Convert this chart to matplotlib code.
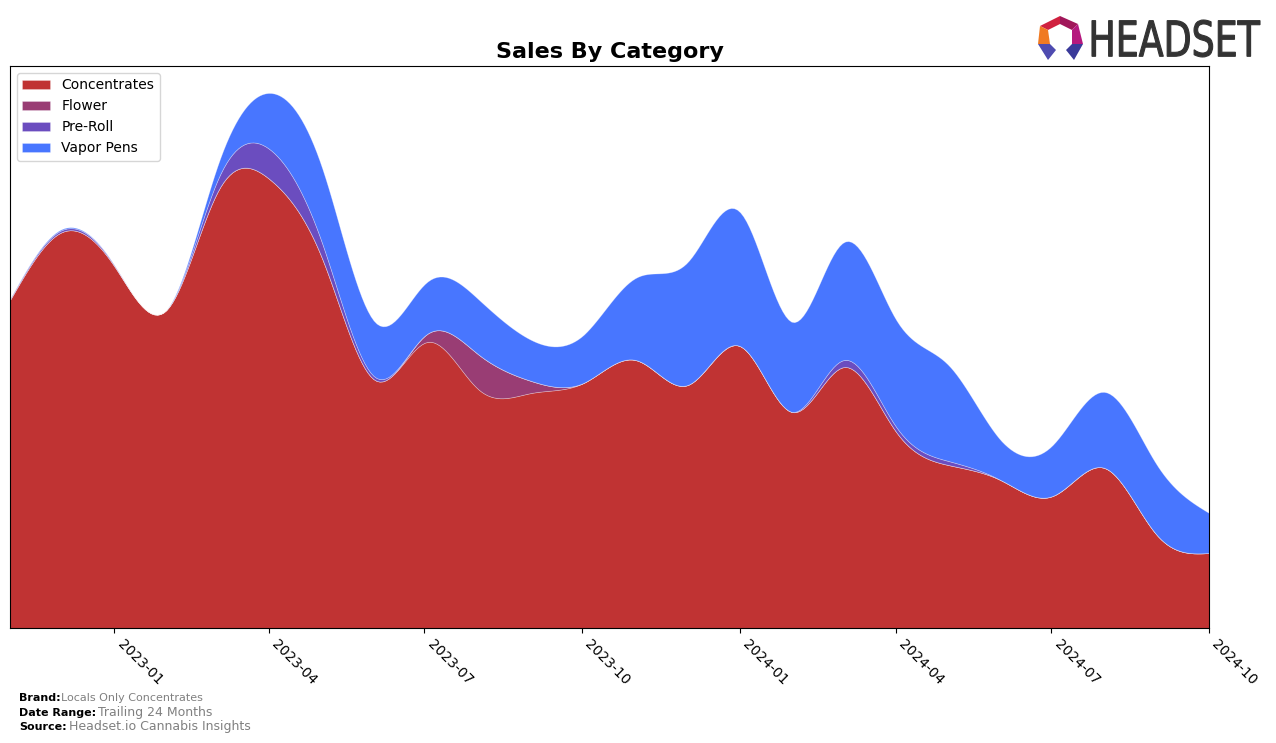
import numpy as np
import pandas as pd
import matplotlib
matplotlib.use("Agg")
from matplotlib import pyplot as plt
from matplotlib.textpath import TextPath
from matplotlib.patches import PathPatch, Polygon
from matplotlib.transforms import Affine2D
import matplotlib.dates as mdates

months = pd.date_range("2022-11-01", "2024-10-01", freq="MS")
concentrates = [328, 396, 362, 318, 438, 448, 368, 248, 286, 238, 235, 245,
                268, 243, 282, 216, 261, 196, 163, 148, 132, 160, 93, 75]
flower = [0, 0, 0, 0, 0, 0, 0, 0, 8, 35, 12, 0,
          0, 0, 0, 0, 0, 0, 0, 0, 0, 0, 0, 0]
pre_roll = [1, 2, 1, 0, 12, 30, 15, 3, 0, 0, 0, 0,
            0, 0, 0, 0, 7, 5, 4, 0, 0, 0, 0, 0]
vapor_pens = [0, 1, 0, 0, 15, 57, 75, 55, 52, 55, 41, 48,
              82, 123, 134, 90, 118, 107, 96, 40, 51, 76, 70, 40]
labels = ["Concentrates", "Flower", "Pre-Roll", "Vapor Pens"]
colors = ["#c03333", "#993d74", "#6b4dbf", "#4876ff"]


def smooth(y, n=400):
    # natural cubic spline over month index
    y = np.asarray(y, dtype=float)
    k = len(y)
    A = np.zeros((k, k))
    r = np.zeros(k)
    A[0, 0] = A[-1, -1] = 1
    for i in range(1, k - 1):
        A[i, i - 1] = 1
        A[i, i] = 4
        A[i, i + 1] = 1
        r[i] = 6 * (y[i + 1] - 2 * y[i] + y[i - 1])
    m = np.linalg.solve(A, r)
    xs = np.linspace(0, k - 1, n)
    idx = np.clip(np.floor(xs).astype(int), 0, k - 2)
    t = xs - idx
    a = y[idx]
    b = y[idx + 1]
    ys = (1 - t) * a + t * b + ((1 - t) ** 3 - (1 - t)) * m[idx] / 6 + (t ** 3 - t) * m[idx + 1] / 6
    return xs, np.clip(ys, 0, None)


series = [concentrates, flower, pre_roll, vapor_pens]
xs = None
ys = []
for s in series:
    xs, v = smooth(s)
    ys.append(v)
t0 = months[0].value
t1 = months[-1].value
xdates = pd.to_datetime(t0 + xs / (len(months) - 1) * (t1 - t0))

fig = plt.figure(figsize=(12.76, 7.43), dpi=100)
ax = fig.add_axes([0.0078, 0.1548, 0.9397, 0.7564])
ax.stackplot(xdates, *ys, labels=labels, colors=colors,
             edgecolor=(1, 1, 1, 0.35), linewidth=0.5)
ax.set_xlim(months[0], months[-1])
ax.set_ylim(0, 562)
ax.set_yticks([])
ax.xaxis.set_major_locator(mdates.MonthLocator(bymonth=[1, 4, 7, 10]))
ax.xaxis.set_major_formatter(mdates.DateFormatter("%Y-%m"))
plt.setp(ax.get_xticklabels(), rotation=-45, ha="left", fontsize=10)
ax.set_title("Sales By Category", fontsize=16, fontweight="bold")
ax.legend(loc="upper left", fontsize=10)

fig.text(0.015, 0.056, "Brand:", fontsize=8, fontweight="bold")
fig.text(0.048, 0.056, "Locals Only Concentrates", fontsize=8, color="gray")
fig.text(0.015, 0.037, "Date Range:", fontsize=8, fontweight="bold")
fig.text(0.077, 0.037, "Trailing 24 Months", fontsize=9, color="gray")
fig.text(0.015, 0.018, "Source:", fontsize=8, fontweight="bold")
fig.text(0.054, 0.018, "Headset.io Cannabis Insights", fontsize=9, color="gray")

# logo
tp = TextPath((0, 0), "HEADSET", size=10, prop={"family": "DejaVu Sans"})
bb = tp.get_extents()
sx = (1260 - 1092) / bb.width
sy = 37 / bb.height
tr = Affine2D().translate(-bb.x0, -bb.y0).scale(sx, sy).translate(1092, 743 - 57)
fig.patches.append(PathPatch(tr.transform_path(tp), facecolor="#333333",
                             edgecolor="#333333", lw=0.8, transform=None, figure=fig))
pts = {
    "a": [(1040, 743 - 26), (1060, 743 - 16), (1060, 743 - 24), (1048, 743 - 30)],
    "b": [(1060, 743 - 16), (1078, 743 - 24), (1072, 743 - 30), (1060, 743 - 24)],
    "c": [(1040, 743 - 26), (1048, 743 - 30), (1050, 743 - 44), (1038, 743 - 44)],
    "d": [(1078, 743 - 24), (1083, 743 - 44), (1072, 743 - 44), (1072, 743 - 30)],
    "e": [(1038, 743 - 44), (1050, 743 - 44), (1056, 743 - 50), (1048, 743 - 60)],
    "f": [(1083, 743 - 44), (1072, 743 - 44), (1066, 743 - 50), (1074, 743 - 60)],
}
cols = {"a": "#d0213f", "b": "#a0175a", "c": "#f07a22", "d": "#b5197e", "e": "#4e4bb0", "f": "#3a3a9a"}
for k, p in pts.items():
    fig.patches.append(Polygon(p, closed=True, color=cols[k], lw=0, transform=None, figure=fig))

fig.savefig("out.png", dpi=100)
